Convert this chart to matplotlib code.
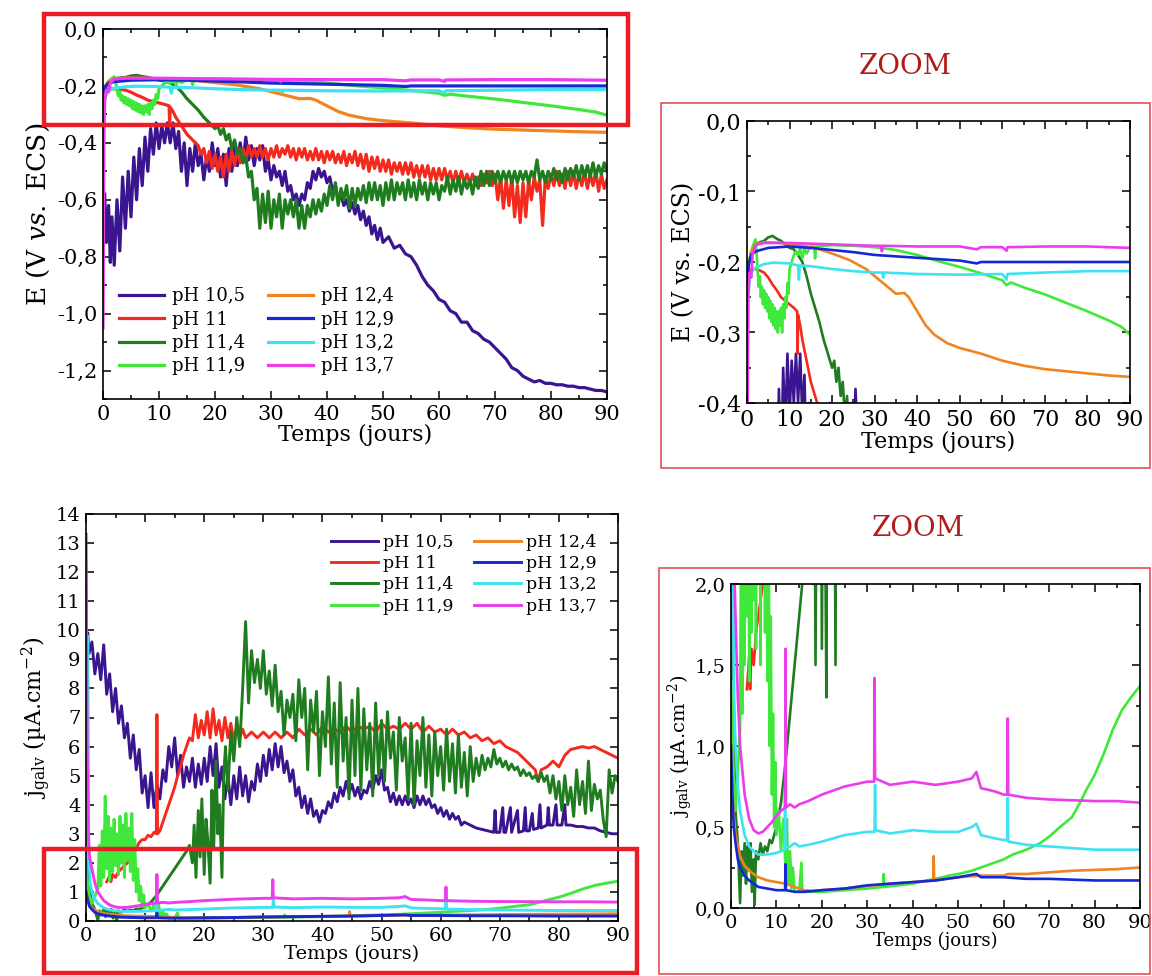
import numpy as np
import matplotlib.pyplot as plt
from matplotlib.patches import Rectangle
from matplotlib.ticker import MultipleLocator, FuncFormatter

plt.rcParams['font.family'] = ['DejaVu Serif']
plt.rcParams['mathtext.fontset'] = 'dejavuserif'

# ---- potential E (V vs ECS), (jours, valeur) ----
E_105 = [(0.3,-0.58),(0.6,-0.75),(1,-0.62),(1.3,-0.82),(1.6,-0.66),(2,-0.83),(2.5,-0.6),(3,-0.78),(3.5,-0.52),(4,-0.7),
         (4.5,-0.5),(5,-0.66),(5.5,-0.45),(6,-0.6),(6.5,-0.42),(7,-0.55),(7.5,-0.38),(8,-0.5),(8.5,-0.35),(9,-0.44),
         (9.5,-0.33),(10,-0.42),(10.5,-0.34),(11,-0.4),(11.5,-0.33),(12,-0.4),(12.5,-0.33),(13,-0.42),(13.5,-0.36),(14,-0.5),
         (14.5,-0.4),(15,-0.55),(15.5,-0.42),(16,-0.5),(16.5,-0.4),(17,-0.48),(17.5,-0.44),(18,-0.53),(18.5,-0.45),(19,-0.5),
         (19.5,-0.4),(20,-0.48),(20.5,-0.42),(21,-0.52),(21.5,-0.44),(22,-0.55),(22.5,-0.42),(23,-0.5),(23.5,-0.41),(24,-0.48),
         (24.5,-0.4),(25,-0.47),(25.5,-0.38),(26,-0.46),(26.5,-0.41),(27,-0.48),(27.5,-0.42),(28,-0.46),(28.5,-0.41),(29,-0.5),
         (29.5,-0.46),(30,-0.53),(30.5,-0.48),(31,-0.52),(31.5,-0.5),(32,-0.55),(32.5,-0.5),(33,-0.57),(33.5,-0.55),(34,-0.6),
         (34.5,-0.58),(35,-0.62),(35.5,-0.58),(36,-0.6),(36.5,-0.54),(37,-0.56),(37.5,-0.5),(38,-0.53),(38.5,-0.49),(39,-0.52),
         (39.5,-0.5),(40,-0.54),(40.5,-0.52),(41,-0.57),(41.5,-0.55),(42,-0.6),(42.5,-0.58),(43,-0.62),(43.5,-0.6),(44,-0.64),
         (44.5,-0.61),(45,-0.65),(45.5,-0.62),(46,-0.67),(46.5,-0.64),(47,-0.69),(47.5,-0.66),(48,-0.72),(48.5,-0.69),(49,-0.74),
         (49.5,-0.7),(50,-0.75),(51,-0.73),(52,-0.77),(53,-0.76),(54,-0.79),(55,-0.8),(56,-0.83),(57,-0.87),(58,-0.9),
         (59,-0.92),(60,-0.95),(61,-0.96),(62,-0.99),(63,-1.0),(64,-1.03),(65,-1.03),(66,-1.06),(67,-1.07),(68,-1.09),
         (69,-1.1),(70,-1.12),(71,-1.14),(72,-1.16),(73,-1.19),(74,-1.2),(75,-1.22),(76,-1.23),(77,-1.24),(78,-1.235),
         (79,-1.245),(80,-1.245),(81,-1.25),(82,-1.25),(83,-1.255),(84,-1.255),(85,-1.26),(86,-1.26),(87,-1.265),(88,-1.27),
         (89,-1.27),(90,-1.275)]
E_11 = [(0,-0.23),(0.5,-0.215),(1,-0.21),(2,-0.21),(3,-0.212),(4,-0.215),(5,-0.222),(6,-0.232),(7,-0.24),(8,-0.25),
        (9,-0.255),(10,-0.26),(11,-0.265),(11.8,-0.27),(11.9,-0.33),(12,-0.275),(12.5,-0.29),(13,-0.31),(14,-0.34),(15,-0.37),
        (16,-0.39),(17,-0.41),(17.5,-0.44),(18,-0.42),(18.5,-0.47),(19,-0.43),(19.5,-0.49),(20,-0.44),(20.5,-0.5),(21,-0.45),
        (21.5,-0.52),(22,-0.44),(22.5,-0.5),(23,-0.43),(23.5,-0.48),(24,-0.42),(24.5,-0.47),(25,-0.42),(25.5,-0.46),(26,-0.41),
        (26.5,-0.45),(27,-0.42),(27.5,-0.45),(28,-0.41),(28.5,-0.45),(29,-0.42),(29.5,-0.46),(30,-0.42),(30.5,-0.45),(31,-0.41),
        (31.5,-0.45),(32,-0.42),(32.5,-0.44),(33,-0.41),(33.5,-0.45),(34,-0.42),(34.5,-0.46),(35,-0.42),(35.5,-0.45),(36,-0.42),
        (36.5,-0.46),(37,-0.43),(37.5,-0.46),(38,-0.42),(38.5,-0.46),(39,-0.43),(39.5,-0.47),(40,-0.43),(40.5,-0.46),(41,-0.43),
        (41.5,-0.47),(42,-0.44),(42.5,-0.47),(43,-0.43),(43.5,-0.48),(44,-0.44),(44.5,-0.47),(45,-0.43),(45.5,-0.48),(46,-0.44),
        (46.5,-0.49),(47,-0.44),(47.5,-0.5),(48,-0.45),(48.5,-0.49),(49,-0.45),(49.5,-0.5),(50,-0.46),(50.5,-0.5),(51,-0.46),
        (51.5,-0.51),(52,-0.47),(52.5,-0.5),(53,-0.47),(53.5,-0.51),(54,-0.47),(54.5,-0.51),(55,-0.47),(55.5,-0.52),(56,-0.48),
        (56.5,-0.52),(57,-0.48),(57.5,-0.52),(58,-0.48),(58.5,-0.53),(59,-0.49),(59.5,-0.53),(60,-0.49),(60.5,-0.53),(61,-0.49),
        (61.5,-0.53),(62,-0.5),(62.5,-0.54),(63,-0.5),(63.5,-0.54),(64,-0.5),(64.5,-0.54),(65,-0.51),(65.5,-0.54),(66,-0.51),
        (66.5,-0.55),(67,-0.52),(67.5,-0.55),(68,-0.51),(68.5,-0.54),(69,-0.5),(69.5,-0.55),(70,-0.51),(70.5,-0.6),(71,-0.52),
        (71.5,-0.63),(72,-0.53),(72.5,-0.62),(73,-0.52),(73.5,-0.66),(74,-0.55),(74.5,-0.68),(75,-0.54),(75.5,-0.66),(76,-0.53),
        (76.5,-0.6),(77,-0.52),(77.5,-0.57),(78,-0.53),(78.5,-0.69),(79,-0.52),(79.5,-0.56),(80,-0.51),(80.5,-0.55),(81,-0.5),
        (81.5,-0.55),(82,-0.51),(82.5,-0.56),(83,-0.5),(83.5,-0.55),(84,-0.5),(84.5,-0.56),(85,-0.51),(85.5,-0.55),(86,-0.5),
        (86.5,-0.56),(87,-0.51),(87.5,-0.55),(88,-0.5),(88.5,-0.57),(89,-0.51),(89.5,-0.56),(90,-0.53)]
E_114 = [(0,-0.23),(0.5,-0.2),(1,-0.185),(2,-0.175),(3,-0.172),(4,-0.17),(5,-0.165),(6,-0.163),(7,-0.167),(8,-0.17),
         (9,-0.175),(10,-0.18),(11,-0.182),(12,-0.19),(13,-0.2),(14,-0.22),(15,-0.245),(16,-0.265),(17,-0.285),(18,-0.31),
         (18.5,-0.32),(19,-0.33),(19.5,-0.34),(20,-0.35),(20.5,-0.34),(21,-0.37),(21.5,-0.35),(22,-0.39),(22.5,-0.37),(23,-0.42),
         (23.5,-0.39),(24,-0.44),(24.5,-0.42),(25,-0.47),(25.5,-0.45),(26,-0.52),(26.5,-0.5),(27,-0.6),(27.5,-0.56),(28,-0.7),
         (28.5,-0.58),(29,-0.68),(29.5,-0.57),(30,-0.7),(30.5,-0.6),(31,-0.66),(31.5,-0.58),(32,-0.7),(32.5,-0.6),(33,-0.65),
         (33.5,-0.6),(34,-0.66),(34.5,-0.6),(35,-0.7),(35.5,-0.62),(36,-0.7),(36.5,-0.62),(37,-0.66),(37.5,-0.6),(38,-0.65),
         (38.5,-0.6),(39,-0.64),(39.5,-0.58),(40,-0.62),(40.5,-0.55),(41,-0.6),(41.5,-0.54),(42,-0.62),(42.5,-0.56),(43,-0.6),
         (43.5,-0.55),(44,-0.63),(44.5,-0.56),(45,-0.62),(45.5,-0.56),(46,-0.6),(46.5,-0.55),(47,-0.61),(47.5,-0.54),(48,-0.6),
         (48.5,-0.54),(49,-0.6),(49.5,-0.55),(50,-0.62),(50.5,-0.54),(51,-0.6),(51.5,-0.53),(52,-0.6),(52.5,-0.54),(53,-0.58),
         (53.5,-0.54),(54,-0.6),(54.5,-0.53),(55,-0.59),(55.5,-0.54),(56,-0.6),(56.5,-0.53),(57,-0.58),(57.5,-0.54),(58,-0.6),
         (58.5,-0.54),(59,-0.58),(59.5,-0.54),(60,-0.6),(60.5,-0.55),(61,-0.57),(61.5,-0.52),(62,-0.58),(62.5,-0.53),(63,-0.57),
         (63.5,-0.52),(64,-0.58),(64.5,-0.53),(65,-0.56),(65.5,-0.53),(66,-0.58),(66.5,-0.52),(67,-0.56),(67.5,-0.5),(68,-0.55),
         (68.5,-0.5),(69,-0.55),(69.5,-0.5),(70,-0.54),(70.5,-0.5),(71,-0.54),(71.5,-0.5),(72,-0.53),(72.5,-0.5),(73,-0.54),
         (73.5,-0.5),(74,-0.54),(74.5,-0.5),(75,-0.53),(75.5,-0.5),(76,-0.54),(76.5,-0.5),(77,-0.52),(77.5,-0.46),(78,-0.53),
         (78.5,-0.5),(79,-0.54),(79.5,-0.5),(80,-0.53),(80.5,-0.49),(81,-0.53),(81.5,-0.5),(82,-0.54),(82.5,-0.49),(83,-0.53),
         (83.5,-0.49),(84,-0.52),(84.5,-0.48),(85,-0.53),(85.5,-0.48),(86,-0.52),(86.5,-0.48),(87,-0.52),(87.5,-0.47),(88,-0.52),
         (88.5,-0.48),(89,-0.51),(89.5,-0.47),(90,-0.5)]
E_119 = [(0,-0.23),(0.5,-0.2),(1,-0.185),(1.5,-0.175),(2,-0.168),(2.3,-0.19),(2.5,-0.215),(2.75,-0.235),(3,-0.22),(3.25,-0.25),
         (3.5,-0.235),(3.75,-0.26),(4,-0.24),(4.25,-0.265),(4.5,-0.245),(4.75,-0.27),(5,-0.25),(5.25,-0.28),(5.5,-0.255),(5.75,-0.285),
         (6,-0.26),(6.25,-0.29),(6.5,-0.265),(6.75,-0.295),(7,-0.27),(7.25,-0.3),(7.5,-0.27),(7.75,-0.29),(8,-0.265),(8.25,-0.3),
         (8.5,-0.26),(8.75,-0.28),(9,-0.25),(9.25,-0.265),(9.5,-0.23),(9.75,-0.245),(10,-0.21),(10.5,-0.2),(11,-0.19),(11.5,-0.185),
         (12,-0.19),(12.5,-0.18),(13,-0.195),(13.5,-0.18),(14,-0.188),(15,-0.178),(15.8,-0.178),(16,-0.195),(16.2,-0.178),(20,-0.176),
         (25,-0.177),(30,-0.179),(35,-0.183),(40,-0.19),(45,-0.199),(50,-0.207),(55,-0.216),(60,-0.226),(61,-0.233),(62,-0.229),
         (65,-0.236),(70,-0.246),(75,-0.258),(80,-0.27),(85,-0.283),(88,-0.292),(90,-0.303)]
E_124 = [(0,-0.22),(0.5,-0.2),(1,-0.185),(2,-0.175),(4,-0.172),(8,-0.173),(12,-0.176),(16,-0.18),(20,-0.188),(24,-0.197),
         (28,-0.21),(31,-0.225),(33,-0.235),(35,-0.245),(37,-0.244),(38,-0.25),(40,-0.27),(42,-0.29),(44,-0.303),(47,-0.315),
         (50,-0.322),(55,-0.33),(60,-0.34),(65,-0.347),(70,-0.352),(75,-0.355),(80,-0.358),(85,-0.361),(90,-0.363)]
E_129 = [(0,-0.23),(0.5,-0.2),(1,-0.19),(2,-0.185),(5,-0.18),(10,-0.178),(15,-0.18),(20,-0.183),(25,-0.186),(30,-0.19),
         (35,-0.192),(40,-0.194),(45,-0.196),(50,-0.198),(54,-0.202),(55,-0.2),(60,-0.2),(70,-0.2),(80,-0.2),(90,-0.2)]
E_132 = [(0,-0.4),(0.1,-0.35),(0.3,-0.25),(0.6,-0.225),(1,-0.215),(2,-0.208),(4,-0.203),(6,-0.201),(10,-0.202),(12,-0.205),
         (12.2,-0.225),(12.4,-0.205),(15,-0.206),(20,-0.21),(25,-0.213),(30,-0.215),(31.8,-0.215),(32,-0.222),(32.2,-0.215),(40,-0.217),
         (50,-0.218),(60,-0.217),(61,-0.225),(61.2,-0.217),(70,-0.215),(80,-0.213),(90,-0.213)]
E_137 = [(0,-1.05),(0.15,-0.4),(0.3,-0.25),(0.6,-0.215),(1,-0.222),(1.3,-0.19),(2,-0.176),(4,-0.173),(10,-0.173),(20,-0.175),
         (30,-0.177),(31.5,-0.177),(31.7,-0.185),(31.9,-0.177),(40,-0.178),(50,-0.178),(54,-0.182),(55,-0.179),(60,-0.179),(61,-0.184),
         (61.2,-0.179),(70,-0.178),(80,-0.178),(90,-0.18)]

# ---- courant galvanique j (uA/cm2), (jours, valeur) ----
J_105 = [(0.3,9.9),(0.5,9.2),(1,9.6),(1.5,8.5),(2,9.2),(2.5,8.3),(3,9.5),(3.5,7.8),(4,8.5),(4.5,7.2),
         (5,8.0),(5.5,6.8),(6,7.4),(6.5,6.3),(7,6.8),(7.5,5.6),(8,6.4),(8.5,5.2),(9,5.9),(9.5,4.4),
         (10,5.0),(10.5,3.9),(11,5.1),(11.5,3.9),(12,4.7),(12.5,4.2),(13,5.2),(13.5,4.8),(14,6.0),(14.5,5.3),
         (15,6.3),(15.5,5.0),(16,5.7),(16.5,4.6),(17,5.3),(17.5,4.8),(18,5.6),(18.5,4.6),(19,5.4),(19.5,4.7),
         (20,5.6),(20.5,4.8),(21,6.0),(21.5,5.0),(22,6.1),(22.5,4.6),(23,5.3),(23.5,4.2),(24,5.0),(24.5,4.0),
         (25,5.0),(25.5,4.2),(26,5.3),(26.5,4.3),(27,5.0),(27.5,4.1),(28,4.8),(28.5,4.5),(29,5.4),(29.5,4.8),
         (30,5.7),(30.5,5.0),(31,5.9),(31.5,5.2),(32,6.1),(32.5,5.3),(33,6.0),(33.5,5.1),(34,5.5),(34.5,4.8),
         (35,5.2),(35.5,4.3),(36,4.6),(36.5,3.9),(37,4.3),(37.5,3.7),(38,4.2),(38.5,3.6),(39,3.8),(39.5,3.4),
         (40,3.8),(40.5,3.7),(41,4.1),(41.5,3.9),(42,4.4),(42.5,4.1),(43,4.6),(43.5,4.3),(44,4.8),(44.5,4.4),
         (45,4.7),(45.5,4.3),(46,4.6),(46.5,4.2),(47,4.5),(47.5,4.4),(48,4.8),(48.5,4.5),(49,5.0),(49.5,4.7),
         (50,5.2),(50.5,4.5),(51,4.6),(51.5,4.1),(52,4.4),(52.5,4.0),(53,4.3),(53.5,4.0),(54,4.3),(54.5,4.0),
         (55,4.2),(55.5,3.9),(56,4.3),(56.5,4.0),(57,4.3),(57.5,4.0),(58,4.2),(58.5,3.9),(59,4.0),(59.5,3.7),
         (60,3.9),(60.5,3.6),(61,3.8),(61.5,3.5),(62,3.7),(62.5,3.5),(63,3.6),(63.5,3.3),(64,3.4),(65,3.3),
         (66,3.2),(67,3.15),(68,3.1),(69,3.05),(69.2,3.8),(69.4,3.05),(70,3.05),(70.5,3.9),(70.7,3.05),(71,3.05),
         (71.8,3.9),(72,3.05),(73,3.8),(73.2,3.05),(74,3.1),(74.3,3.9),(74.5,3.1),(75,3.1),(75.5,3.7),(75.7,3.15),
         (76.5,3.2),(76.8,4.0),(77,3.2),(78,3.3),(78.2,3.9),(78.4,3.3),(79,3.3),(79.5,4.0),(79.7,3.3),(80.5,3.3),
         (81,4.0),(81.2,3.3),(82,3.3),(83,3.25),(84,3.25),(85,3.2),(86,3.2),(87,3.1),(88,3.05),(89,3.0),(90,3.0)]
J_11 = [(3.5,1.35),(4,1.55),(4.2,1.35),(4.5,1.6),(5,1.5),(5.5,1.7),(6,1.8),(6.5,1.9),(7,2.0),(7.5,2.1),
        (8,2.3),(8.5,2.5),(9,2.7),(9.5,2.8),(10,2.8),(10.5,2.95),(11,2.9),(11.5,3.05),(11.9,3.0),(12,7.1),
        (12.1,3.0),(12.5,3.1),(13,3.4),(13.5,3.7),(14,4.0),(14.5,4.3),(15,4.6),(15.5,5.0),(16,5.3),(16.5,5.7),
        (17,6.0),(17.5,6.3),(18,6.2),(18.5,7.1),(19,6.3),(19.5,6.9),(20,6.4),(20.5,7.2),(21,6.3),(21.5,7.3),
        (22,6.4),(22.5,6.9),(23,6.2),(23.5,7.0),(24,6.3),(24.5,6.8),(25,6.2),(25.5,6.7),(26,6.3),(26.5,6.6),
        (27,6.3),(28,6.5),(29,6.3),(30,6.5),(31,6.3),(32,6.5),(33,6.3),(34,6.5),(35,6.3),(36,6.6),
        (37,6.4),(38,6.6),(39,6.4),(40,6.7),(41,6.5),(42,6.6),(43,6.5),(44,6.7),(45,6.5),(46,6.7),
        (47,6.6),(48,6.7),(49,6.5),(50,6.8),(51,6.6),(52,6.7),(53,6.6),(54,6.8),(55,6.6),(56,6.8),
        (57,6.5),(58,6.7),(59,6.5),(60,6.6),(61,6.4),(62,6.6),(63,6.4),(64,6.5),(65,6.3),(66,6.4),
        (67,6.2),(68,6.3),(69,6.1),(70,6.2),(71,6.0),(72,5.9),(73,5.8),(74,5.6),(75,5.4),(76,5.2),
        (76.5,4.8),(77,5.2),(78,5.3),(79,5.5),(80,5.3),(81,5.7),(82,5.9),(83,5.95),(84,6.0),(85,5.95),
        (86,6.0),(87,5.9),(88,5.8),(89,5.7),(90,5.6)]
J_114 = [(0,13.3),(0.2,4.0),(0.5,1.2),(1,0.6),(1.5,0.4),(2,0.03),(2.3,0.35),(2.6,0.2),(3,0.4),(3.3,0.15),
         (3.6,0.38),(4,0.25),(4.3,0.4),(4.6,0.1),(5,0.3),(5.2,0.02),(5.5,0.35),(6,0.3),(6.5,0.4),(7,0.33),
         (7.5,0.38),(8,0.35),(8.5,0.42),(9,0.4),(9.5,0.45),(10,0.5),(11,0.65),(12,0.9),(13,1.2),(14,1.5),
         (15,1.8),(16,2.1),(17,2.4),(17.5,2.6),(18,2.0),(18.3,3.3),(18.6,1.5),(19,3.8),(19.3,2.2),(19.6,4.2),
         (20,1.6),(20.3,3.5),(20.6,2.8),(21,1.3),(21.3,4.5),(21.6,2.5),(22,5.5),(22.3,3.0),(22.6,4.0),(23,1.5),
         (23.3,5.0),(23.6,6.0),(24,4.5),(24.5,6.5),(25,5.5),(25.5,7.0),(26,6.0),(26.5,8.0),(27,10.3),(27.5,7.5),
         (28,9.3),(28.5,8.2),(29,9.0),(29.5,8.0),(30,9.3),(30.5,7.8),(31,8.6),(31.5,7.4),(32,8.8),(32.5,7.2),
         (33,7.9),(33.5,6.4),(34,7.6),(34.5,7.0),(35,7.8),(35.5,6.2),(36,8.3),(36.5,7.0),(37,8.0),(37.5,5.2),
         (38,7.6),(38.5,6.5),(39,7.9),(39.5,5.0),(40,7.2),(40.5,6.0),(41,8.4),(41.5,5.4),(42,7.5),(42.5,4.6),
         (43,8.2),(43.5,5.5),(44,7.0),(44.5,4.2),(45,7.6),(45.5,5.0),(46,8.0),(46.5,4.5),(47,7.3),(47.5,5.2),
         (48,6.8),(48.5,4.3),(49,7.5),(49.5,5.0),(50,6.9),(50.5,4.8),(51,7.2),(51.5,5.6),(52,6.5),(52.5,4.5),
         (53,7.0),(53.5,5.5),(54,6.3),(54.5,4.2),(55,6.8),(55.5,4.0),(56,6.2),(56.5,5.0),(57,7.0),(57.5,4.6),
         (58,6.4),(58.5,4.3),(59,6.5),(59.5,5.0),(60,6.0),(60.5,4.5),(61,6.6),(61.5,4.8),(62,6.1),(62.5,4.4),
         (63,6.4),(63.5,4.6),(64,5.8),(64.5,4.3),(65,6.0),(65.5,4.8),(66,5.6),(66.5,5.0),(67,5.7),(67.5,5.2),
         (68,5.6),(68.5,5.3),(69,5.9),(69.5,5.4),(70,5.6),(70.5,5.3),(71,5.5),(71.5,5.2),(72,5.4),(72.5,5.2),
         (73,5.3),(73.5,5.0),(74,5.2),(74.5,5.0),(75,5.1),(75.5,4.9),(76,5.0),(76.5,4.8),(77,5.1),(77.5,4.8),
         (78,5.0),(78.5,4.4),(79,5.0),(79.5,4.2),(80,4.8),(80.5,3.8),(81,5.0),(81.5,4.0),(82,4.6),(82.5,3.6),
         (83,5.2),(83.5,4.0),(84,4.8),(84.5,3.7),(85,5.5),(85.5,3.8),(86,4.7),(86.5,4.2),(87,4.5),(87.5,3.5),
         (88,2.9),(88.5,5.2),(89,4.4),(89.5,5.0),(90,4.8)]
J_119 = [(0.2,1.4),(0.5,0.9),(1,0.6),(1.5,0.85),(2,1.1),(2.25,2.6),(2.5,1.2),(2.75,3.1),(3,1.5),(3.25,4.3),
         (3.5,1.8),(3.75,3.6),(4,1.4),(4.25,3.2),(4.5,1.7),(4.75,3.5),(5,1.9),(5.25,3.0),(5.5,1.6),(5.75,3.6),
         (6,2.0),(6.25,3.3),(6.5,1.5),(6.75,3.7),(7,2.1),(7.25,3.2),(7.5,1.7),(7.75,3.7),(8,1.4),(8.25,2.8),
         (8.5,1.0),(8.75,1.8),(9,0.7),(9.25,1.2),(9.5,0.5),(9.75,0.9),(10,0.45),(10.5,0.6),(11,0.35),(11.5,0.55),
         (12,0.25),(12.3,0.55),(12.6,0.15),(13,0.35),(13.3,0.12),(13.6,0.25),(14,0.1),(15,0.1),(15.5,0.28),(15.7,0.1),
         (20,0.1),(25,0.11),(30,0.12),(33.5,0.13),(33.6,0.21),(33.7,0.13),(40,0.15),(43,0.17),(45,0.18),(48,0.2),
         (50,0.21),(53,0.23),(55,0.25),(58,0.28),(60,0.3),(62,0.33),(65,0.36),(68,0.4),(70,0.44),(72,0.49),
         (75,0.56),(77,0.66),(78,0.72),(80,0.82),(82,0.95),(84,1.1),(86,1.22),(88,1.3),(90,1.37)]
J_124 = [(0,1.0),(0.5,0.6),(1,0.45),(2,0.32),(3,0.26),(4,0.23),(5,0.21),(6,0.19),(8,0.17),(10,0.16),
         (12,0.15),(14,0.13),(16,0.11),(18,0.105),(20,0.11),(25,0.12),(30,0.135),(35,0.15),(40,0.16),(44.5,0.17),
         (44.6,0.32),(44.7,0.17),(50,0.19),(55,0.2),(60,0.2),(61,0.21),(65,0.21),(70,0.22),(75,0.23),(80,0.235),
         (85,0.24),(90,0.25)]
J_129 = [(0,1.0),(0.3,0.7),(0.6,0.5),(1,0.4),(1.5,0.3),(2,0.25),(3,0.2),(4,0.17),(5,0.15),(6,0.13),
         (8,0.12),(10,0.11),(11.9,0.11),(12,0.27),(12.1,0.11),(14,0.1),(16,0.1),(20,0.11),(25,0.12),(30,0.14),
         (35,0.15),(40,0.16),(45,0.17),(50,0.19),(54,0.21),(55,0.19),(60,0.19),(65,0.18),(70,0.18),(80,0.17),
         (90,0.17)]
J_132 = [(0,1.3),(0.3,9.8),(0.45,2.5),(0.7,1.3),(1,1.0),(1.5,0.75),(2,0.6),(3,0.45),(4,0.38),(5,0.35),
         (6,0.33),(8,0.33),(10,0.34),(11.8,0.36),(11.9,0.75),(12,0.37),(13,0.38),(14,0.4),(15,0.38),(17,0.39),
         (20,0.41),(25,0.45),(30,0.47),(31.6,0.47),(31.7,0.76),(31.8,0.48),(35,0.46),(40,0.48),(45,0.47),(50,0.47),
         (53,0.5),(54,0.52),(55,0.45),(58,0.43),(60,0.42),(60.8,0.42),(60.9,0.68),(61,0.41),(65,0.39),(70,0.38),
         (75,0.37),(80,0.36),(85,0.36),(90,0.36)]
J_137 = [(0,12.3),(0.2,6.0),(0.4,3.0),(0.6,2.2),(1,1.8),(1.5,1.3),(2,1.0),(3,0.7),(4,0.55),(5,0.48),
         (6,0.46),(7,0.47),(8,0.5),(9,0.53),(10,0.57),(11,0.6),(11.9,0.62),(12,1.6),(12.1,0.62),(13,0.64),
         (14,0.62),(15,0.64),(17,0.66),(20,0.7),(25,0.75),(30,0.78),(31.5,0.78),(31.6,1.42),(31.7,0.8),(35,0.76),
         (40,0.78),(45,0.76),(50,0.78),(53,0.8),(54,0.84),(55,0.74),(58,0.72),(60,0.7),(60.8,0.7),(60.9,1.17),
         (61,0.7),(65,0.68),(70,0.67),(80,0.66),(85,0.66),(90,0.65)]

labels = ['pH 10,5', 'pH 11', 'pH 11,4', 'pH 11,9', 'pH 12,4', 'pH 12,9', 'pH 13,2', 'pH 13,7']
colors = ['#3b1590', '#f42a1e', '#1f7d1f', '#3fe83a', '#f0841e', '#1428d6', '#3ee2f0', '#ec3cec']
E_all = [E_105, E_11, E_114, E_119, E_124, E_129, E_132, E_137]
J_all = [J_105, J_11, J_114, J_119, J_124, J_129, J_132, J_137]

W, H = 1152, 976
fig = plt.figure(figsize=(W / 100, H / 100), dpi=100)


def px(l, t, r, b):
    return [l / W, 1 - b / H, (r - l) / W, (b - t) / H]


def comma(nd):
    def f(v, pos):
        if abs(v) < 1e-9:
            v = 0.0
        return ('{:.%df}' % nd).format(v).replace('.', ',')
    return FuncFormatter(f)


def style(ax, tsize, lsize):
    ax.set_xlim(0, 90)
    ax.xaxis.set_major_locator(MultipleLocator(10))
    ax.xaxis.set_minor_locator(MultipleLocator(5))
    ax.tick_params(which='both', direction='in', top=True, right=True, width=1.1)
    ax.tick_params(which='major', length=6, labelsize=tsize, pad=4)
    ax.tick_params(which='minor', length=3)
    for s in ax.spines.values():
        s.set_linewidth(1.2)
    ax.set_xlabel('Temps (jours)', fontsize=lsize, labelpad=0)


def draw(ax, data, lw):
    for d, c, lab in zip(data, colors, labels):
        t, v = np.array(d).T
        ax.plot(t, v, color=c, lw=lw, label=lab)


ylab_E = 'E (V $\\mathit{vs.}$ ECS)'
ylab_J = 'j$_{\\mathrm{galv}}$ (µA.cm$^{\\mathrm{-2}}$)'

# haut gauche
ax1 = fig.add_axes(px(103, 29, 607, 399))
draw(ax1, E_all, 2.3)
style(ax1, 15, 16)
ax1.set_ylim(-1.3, 0)
ax1.yaxis.set_major_locator(MultipleLocator(0.2))
ax1.yaxis.set_minor_locator(MultipleLocator(0.1))
ax1.yaxis.set_major_formatter(comma(1))
ax1.set_ylabel(ylab_E, fontsize=19, labelpad=4)
ax1.legend(loc='lower left', bbox_to_anchor=(0.0, 0.02), ncol=2, frameon=False, fontsize=13,
           handlelength=2.5, labelspacing=0.3, columnspacing=1.3, handletextpad=0.4)

# haut droite (zoom)
ax2 = fig.add_axes(px(747, 121, 1130, 403))
draw(ax2, E_all, 1.9)
style(ax2, 16, 16)
ax2.set_ylim(-0.4, 0)
ax2.yaxis.set_major_locator(MultipleLocator(0.1))
ax2.yaxis.set_minor_locator(MultipleLocator(0.05))
ax2.yaxis.set_major_formatter(comma(1))
ax2.set_ylabel('E (V vs. ECS)', fontsize=17, labelpad=2)

# bas gauche
ax3 = fig.add_axes(px(86, 514, 618, 921))
draw(ax3, J_all, 2.1)
style(ax3, 14, 14)
ax3.set_ylim(0, 14)
ax3.yaxis.set_major_locator(MultipleLocator(1))
ax3.set_ylabel(ylab_J, fontsize=16, labelpad=2)
ax3.legend(loc='upper right', bbox_to_anchor=(0.99, 0.99), ncol=2, frameon=False, fontsize=12.5,
           handlelength=2.7, labelspacing=0.25, columnspacing=1.2, handletextpad=0.3)

# bas droite (zoom)
ax4 = fig.add_axes(px(731, 584, 1140, 908))
draw(ax4, J_all, 1.9)
style(ax4, 14, 13)
ax4.set_ylim(0, 2)
ax4.yaxis.set_major_locator(MultipleLocator(0.5))
ax4.yaxis.set_minor_locator(MultipleLocator(0.25))
ax4.yaxis.set_major_formatter(comma(1))
ax4.set_ylabel(ylab_J, fontsize=14, labelpad=0)

# cadres rouges et titres ZOOM
for (l, t, r, b), lw, ec in [((44, 14, 628, 125), 3.2, '#ec1c24'),
                             ((44, 849, 637, 973), 3.2, '#ec1c24'),
                             ((661, 103, 1150, 468), 1.2, '#e0505a'),
                             ((659, 568, 1150, 974), 1.2, '#e0505a')]:
    fig.add_artist(Rectangle((l / W, 1 - b / H), (r - l) / W, (b - t) / H, transform=fig.transFigure,
                             fill=False, ec=ec, lw=lw))

fig.text(905 / W, 1 - 66 / H, 'ZOOM', color='#b01c1c', fontsize=20, ha='center', va='center')
fig.text(918 / W, 1 - 528 / H, 'ZOOM', color='#b01c1c', fontsize=20, ha='center', va='center')

fig.savefig('out.png', dpi=100)
